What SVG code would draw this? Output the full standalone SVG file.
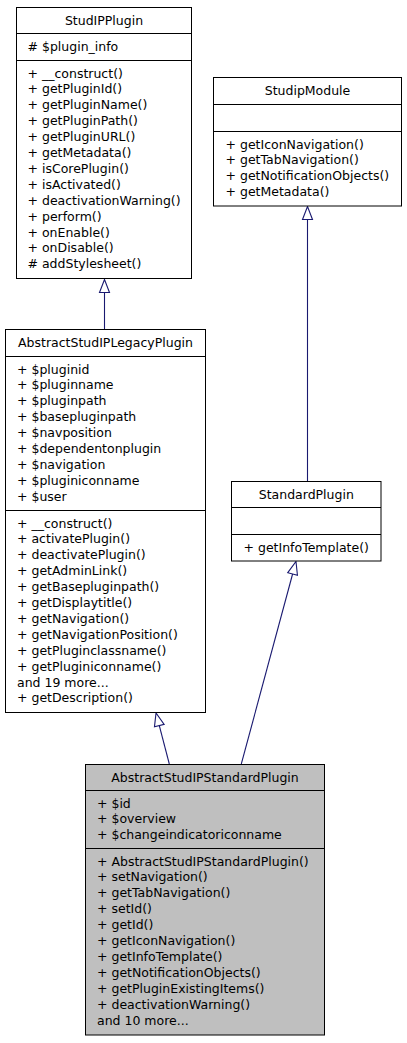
<svg xmlns="http://www.w3.org/2000/svg" width="407" height="1043" viewBox="0 0 407 1043">
<style>
  .box { fill: #ffffff; stroke: #000000; stroke-width: 1; }
  .cur { fill: #bfbfbf; stroke: #000000; stroke-width: 1; }
  .sep { stroke: #000000; stroke-width: 1; }
  text { font-family: "DejaVu Sans", "Noto Sans", sans-serif; font-size: 12.5px; fill: #000000; }
  .title { text-anchor: middle; }
  .edge { fill: none; stroke: #191970; stroke-width: 1.1; }
</style>
<defs>
  <marker id="inh" markerUnits="userSpaceOnUse" viewBox="-1 -7 16 14" markerWidth="16" markerHeight="14" refX="0" refY="0" orient="auto">
    <path d="M0,-5 L13,0 L0,5 Z" fill="#ffffff" stroke="#191970" stroke-width="1.1"/>
  </marker>
</defs>

<g id="connectors">
  <path class="edge" d="M104.5,329 L104.5,292.5" marker-end="url(#inh)"/>
  <path class="edge" d="M307.5,481 L307.5,219.5" marker-end="url(#inh)"/>
  <path class="edge" d="M169.3,764 L159.3,725.6" marker-end="url(#inh)"/>
  <path class="edge" d="M241.3,764 L292.6,574" marker-end="url(#inh)"/>
</g>

<g id="StudIPPlugin">
  <rect class="box" x="16.5" y="7.5" width="175" height="271"/>
  <line class="sep" x1="16.5" y1="33.5" x2="191.5" y2="33.5"/>
  <line class="sep" x1="16.5" y1="60.5" x2="191.5" y2="60.5"/>
  <text class="title" x="104" y="24.5">StudIPPlugin</text>
  <text x="27.5" y="51"># $plugin_info</text>
  <text x="27.5" y="77.5">
    <tspan x="27.5" y="77.5">+ __construct()</tspan>
    <tspan x="27.5" y="93.4">+ getPluginId()</tspan>
    <tspan x="27.5" y="109.3">+ getPluginName()</tspan>
    <tspan x="27.5" y="125.2">+ getPluginPath()</tspan>
    <tspan x="27.5" y="141.1">+ getPluginURL()</tspan>
    <tspan x="27.5" y="157">+ getMetadata()</tspan>
    <tspan x="27.5" y="172.9">+ isCorePlugin()</tspan>
    <tspan x="27.5" y="188.8">+ isActivated()</tspan>
    <tspan x="27.5" y="204.7">+ deactivationWarning()</tspan>
    <tspan x="27.5" y="220.6">+ perform()</tspan>
    <tspan x="27.5" y="236.5">+ onEnable()</tspan>
    <tspan x="27.5" y="252.4">+ onDisable()</tspan>
    <tspan x="27.5" y="268.3"># addStylesheet()</tspan>
  </text>
</g>

<g id="StudipModule">
  <rect class="box" x="213.5" y="77.5" width="188" height="128.5"/>
  <line class="sep" x1="213.5" y1="104.5" x2="401.5" y2="104.5"/>
  <line class="sep" x1="213.5" y1="131.5" x2="401.5" y2="131.5"/>
  <text class="title" x="307.5" y="94.5">StudipModule</text>
  <text x="225.5" y="148.5">
    <tspan x="225.5" y="148.5">+ getIconNavigation()</tspan>
    <tspan x="225.5" y="164.4">+ getTabNavigation()</tspan>
    <tspan x="225.5" y="180.3">+ getNotificationObjects()</tspan>
    <tspan x="225.5" y="196.2">+ getMetadata()</tspan>
  </text>
</g>

<g id="AbstractStudIPLegacyPlugin">
  <rect class="box" x="5.5" y="329.5" width="200" height="383"/>
  <line class="sep" x1="5.5" y1="356.5" x2="205.5" y2="356.5"/>
  <line class="sep" x1="5.5" y1="510.5" x2="205.5" y2="510.5"/>
  <text class="title" x="105.5" y="346.5">AbstractStudIPLegacyPlugin</text>
  <text x="17" y="373.5">
    <tspan x="17" y="373.5">+ $pluginid</tspan>
    <tspan x="17" y="389.4">+ $pluginname</tspan>
    <tspan x="17" y="405.3">+ $pluginpath</tspan>
    <tspan x="17" y="421.2">+ $basepluginpath</tspan>
    <tspan x="17" y="437.1">+ $navposition</tspan>
    <tspan x="17" y="453">+ $dependentonplugin</tspan>
    <tspan x="17" y="468.9">+ $navigation</tspan>
    <tspan x="17" y="484.8">+ $pluginiconname</tspan>
    <tspan x="17" y="500.7">+ $user</tspan>
  </text>
  <text x="17" y="527.5">
    <tspan x="17" y="527.5">+ __construct()</tspan>
    <tspan x="17" y="543.4">+ activatePlugin()</tspan>
    <tspan x="17" y="559.3">+ deactivatePlugin()</tspan>
    <tspan x="17" y="575.2">+ getAdminLink()</tspan>
    <tspan x="17" y="591.1">+ getBasepluginpath()</tspan>
    <tspan x="17" y="607">+ getDisplaytitle()</tspan>
    <tspan x="17" y="622.9">+ getNavigation()</tspan>
    <tspan x="17" y="638.8">+ getNavigationPosition()</tspan>
    <tspan x="17" y="654.7">+ getPluginclassname()</tspan>
    <tspan x="17" y="670.6">+ getPluginiconname()</tspan>
    <tspan x="17" y="686.5">and 19 more...</tspan>
    <tspan x="17" y="702.4">+ getDescription()</tspan>
  </text>
</g>

<g id="StandardPlugin">
  <rect class="box" x="231.5" y="481.5" width="149.5" height="79.5"/>
  <line class="sep" x1="231.5" y1="507.5" x2="381" y2="507.5"/>
  <line class="sep" x1="231.5" y1="534.5" x2="381" y2="534.5"/>
  <text class="title" x="306.3" y="498.5">StandardPlugin</text>
  <text x="243.5" y="551.5">+ getInfoTemplate()</text>
</g>

<g id="AbstractStudIPStandardPlugin">
  <rect class="cur" x="85.5" y="764.5" width="239" height="270.5"/>
  <line class="sep" x1="85.5" y1="790.5" x2="324.5" y2="790.5"/>
  <line class="sep" x1="85.5" y1="848.5" x2="324.5" y2="848.5"/>
  <text class="title" x="205" y="781.5">AbstractStudIPStandardPlugin</text>
  <text x="97" y="807.5">
    <tspan x="97" y="807.5">+ $id</tspan>
    <tspan x="97" y="823.4">+ $overview</tspan>
    <tspan x="97" y="839.3">+ $changeindicatoriconname</tspan>
  </text>
  <text x="97" y="865.5">
    <tspan x="97" y="865.5">+ AbstractStudIPStandardPlugin()</tspan>
    <tspan x="97" y="881.4">+ setNavigation()</tspan>
    <tspan x="97" y="897.3">+ getTabNavigation()</tspan>
    <tspan x="97" y="913.2">+ setId()</tspan>
    <tspan x="97" y="929.1">+ getId()</tspan>
    <tspan x="97" y="945">+ getIconNavigation()</tspan>
    <tspan x="97" y="960.9">+ getInfoTemplate()</tspan>
    <tspan x="97" y="976.8">+ getNotificationObjects()</tspan>
    <tspan x="97" y="992.7">+ getPluginExistingItems()</tspan>
    <tspan x="97" y="1008.6">+ deactivationWarning()</tspan>
    <tspan x="97" y="1024.5">and 10 more...</tspan>
  </text>
</g>
</svg>
